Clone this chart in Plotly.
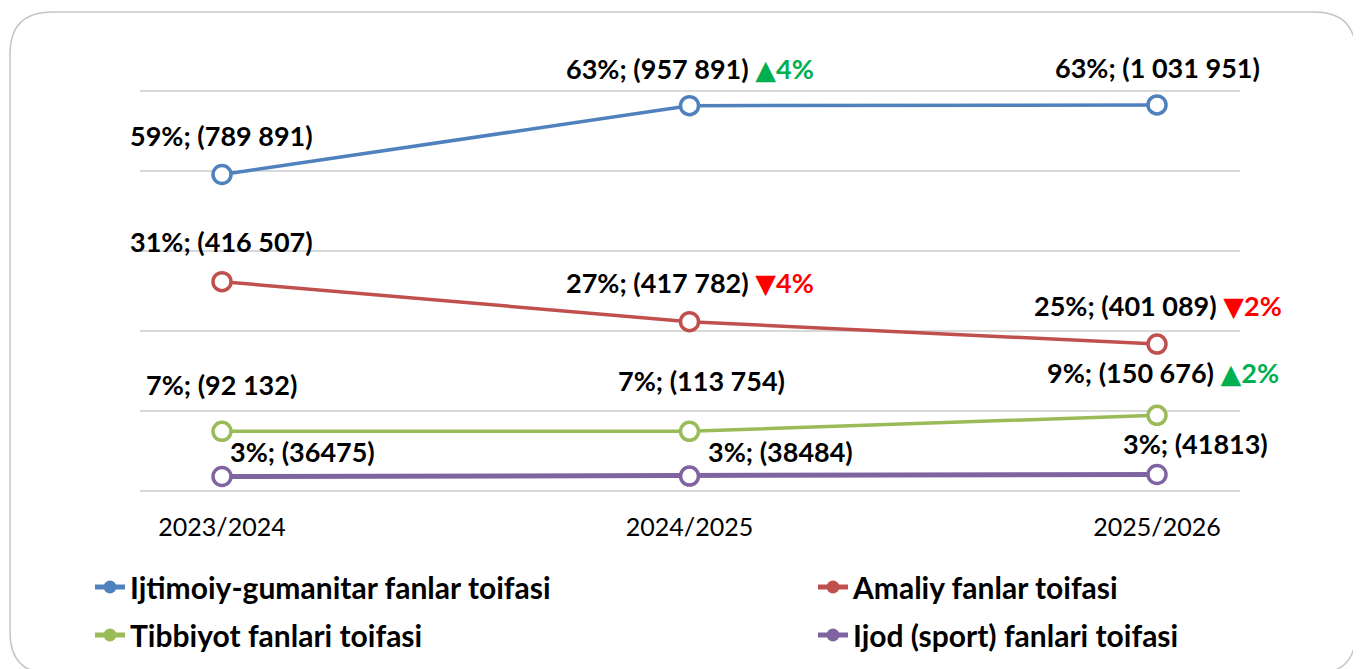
import plotly.graph_objects as go

# ---------------- data ----------------
categories = ["2023/2024", "2024/2025", "2025/2026"]
series_names = [
    "Ijtimoiy-gumanitar fanlar toifasi",
    "Amaliy fanlar toifasi",
    "Tibbiyot fanlari toifasi",
    "Ijod (sport) fanlari toifasi",
]
level_gum = [3.95, 4.81, 4.82]
level_amal = [2.61, 2.11, 1.83]
level_tib = [0.74, 0.74, 0.94]
level_ijod = [0.175, 0.18, 0.20]

pct_gum = [59, 63, 63]
pct_amal = [31, 27, 25]
pct_tib = [7, 7, 9]
pct_ijod = [3, 3, 3]

count_gum = ["789 891", "957 891", "1 031 951"]
count_amal = ["416 507", "417 782", "401 089"]
count_tib = ["92 132", "113 754", "150 676"]
count_ijod = ["36475", "38484", "41813"]

change_gum = ["", "▲4%", ""]
change_amal = ["", "▼4%", "▼2%"]
change_tib = ["", "", "▲2%"]
change_ijod = ["", "", ""]

# ---------------- style ----------------
colors = ["#4f81bd", "#c0504d", "#9bbb59", "#8064a2"]
line_widths = [3.5, 3.5, 3.5, 5]
label_shifts = [
    [(-1, 39), (0, 37), (0, 37)],
    [(-1, 40), (0, 39), (1, 39)],
    [(-1, 47), (12, 51), (6, 43)],
    [(80, 25), (91, 25), (38, 31)],
]
UP = "#00b050"
DOWN = "#ff0000"
FONT = "Lato"

W, H = 1361, 669
OFF = 8  # page body margin
L, T = 140 - OFF, 88 - OFF
PW, PH = 1100, 405
R, B = W - L - PW, H - T - PH

levels = [level_gum, level_amal, level_tib, level_ijod]
pcts = [pct_gum, pct_amal, pct_tib, pct_ijod]
counts = [count_gum, count_amal, count_tib, count_ijod]
changes = [change_gum, change_amal, change_tib, change_ijod]

xs = list(range(len(categories)))

fig = go.Figure()
annotations = []
for i, name in enumerate(series_names):
    fig.add_trace(go.Scatter(
        x=xs, y=levels[i], mode="lines+markers", name=name, showlegend=False,
        line=dict(color=colors[i], width=line_widths[i]),
        marker=dict(symbol="circle", size=18, color="white",
                    line=dict(color=colors[i], width=3.5)),
        hoverinfo="skip",
    ))
    for j in xs:
        txt = f"{pcts[i][j]}%; ({counts[i][j]})"
        ch = changes[i][j]
        if ch:
            c = UP if ch.startswith("▲") else DOWN
            txt += (f" <span style='color:{c};font-family:DejaVu Sans'>{ch[0]}</span>"
                    f"<span style='color:{c}'>{ch[1:]}</span>")
        dx, dy = label_shifts[i][j]
        annotations.append(dict(
            x=j, y=levels[i][j], xref="x", yref="y", text=txt, showarrow=False,
            xshift=dx, yshift=dy, xanchor="center", yanchor="middle",
            font=dict(family=FONT, size=27, color="#000000", weight="bold"),
        ))

def px2paper(px, py):
    """screen pixel -> paper fraction"""
    return (px - OFF - L) / PW, (H - B - (py - OFF)) / PH

# legend-only entries (filled markers as in the reference legend)
legend_ids = ["legend", "legend2", "legend3", "legend4"]
legend_px = [(90, 587), (813, 587), (90, 635), (813, 635)]
for i, name in enumerate(series_names):
    fig.add_trace(go.Scatter(
        x=[None], y=[None], mode="lines+markers", name=name,
        legend=legend_ids[i],
        line=dict(color=colors[i], width=5),
        marker=dict(symbol="circle", size=13, color=colors[i]),
    ))

# rounded border
r = 42
x0, x1, y0, y1 = 10, 1356, 12, 674
pts = [
    ("M", (x0, y0 + r)),
    ("Q", (x0, y0), (x0 + r, y0)),
    ("L", (x1 - r, y0)),
    ("Q", (x1, y0), (x1, y0 + r)),
    ("L", (x1, y1 - r)),
    ("Q", (x1, y1), (x1 - r, y1)),
    ("L", (x0 + r, y1)),
    ("Q", (x0, y1), (x0, y1 - r)),
    ("Z",),
]
path = ""
for p in pts:
    path += p[0]
    for q in p[1:]:
        a, b = px2paper(*q)
        path += f" {a:.5f},{b:.5f} "
fig.add_shape(type="path", path=path, xref="paper", yref="paper",
              line=dict(color="#c6c6c6", width=1.5), layer="below")

leg_font = dict(family=FONT, size=30, color="#000000", weight="bold")
legends = {}
for k, lid in enumerate(legend_ids):
    lx, ly = px2paper(*legend_px[k])
    legends[lid] = dict(orientation="h", x=lx, y=ly, xanchor="left",
                        yanchor="middle", font=leg_font,
                        bgcolor="rgba(0,0,0,0)", itemclick=False,
                        itemdoubleclick=False)

fig.update_layout(
    width=W, height=H,
    margin=dict(l=L, r=R, t=T, b=B, autoexpand=False),
    paper_bgcolor="white", plot_bgcolor="white",
    showlegend=True,
    xaxis=dict(range=[-0.1754, 2.1775], tickmode="array", tickvals=xs,
               ticktext=categories, showgrid=False, zeroline=False,
               showline=False, ticks="", ticklabelstandoff=17,
               tickfont=dict(family=FONT, size=25, color="#000000")),
    yaxis=dict(range=[-0.03125, 5.03125], tickmode="linear", tick0=0, dtick=1,
               showgrid=True, gridcolor="#d9d9d9", gridwidth=1.5,
               zeroline=False, showticklabels=False, showline=False),
    annotations=annotations,
    hovermode=False,
    **legends,
)

fig.write_html("out.html", config={"displayModeBar": False})
